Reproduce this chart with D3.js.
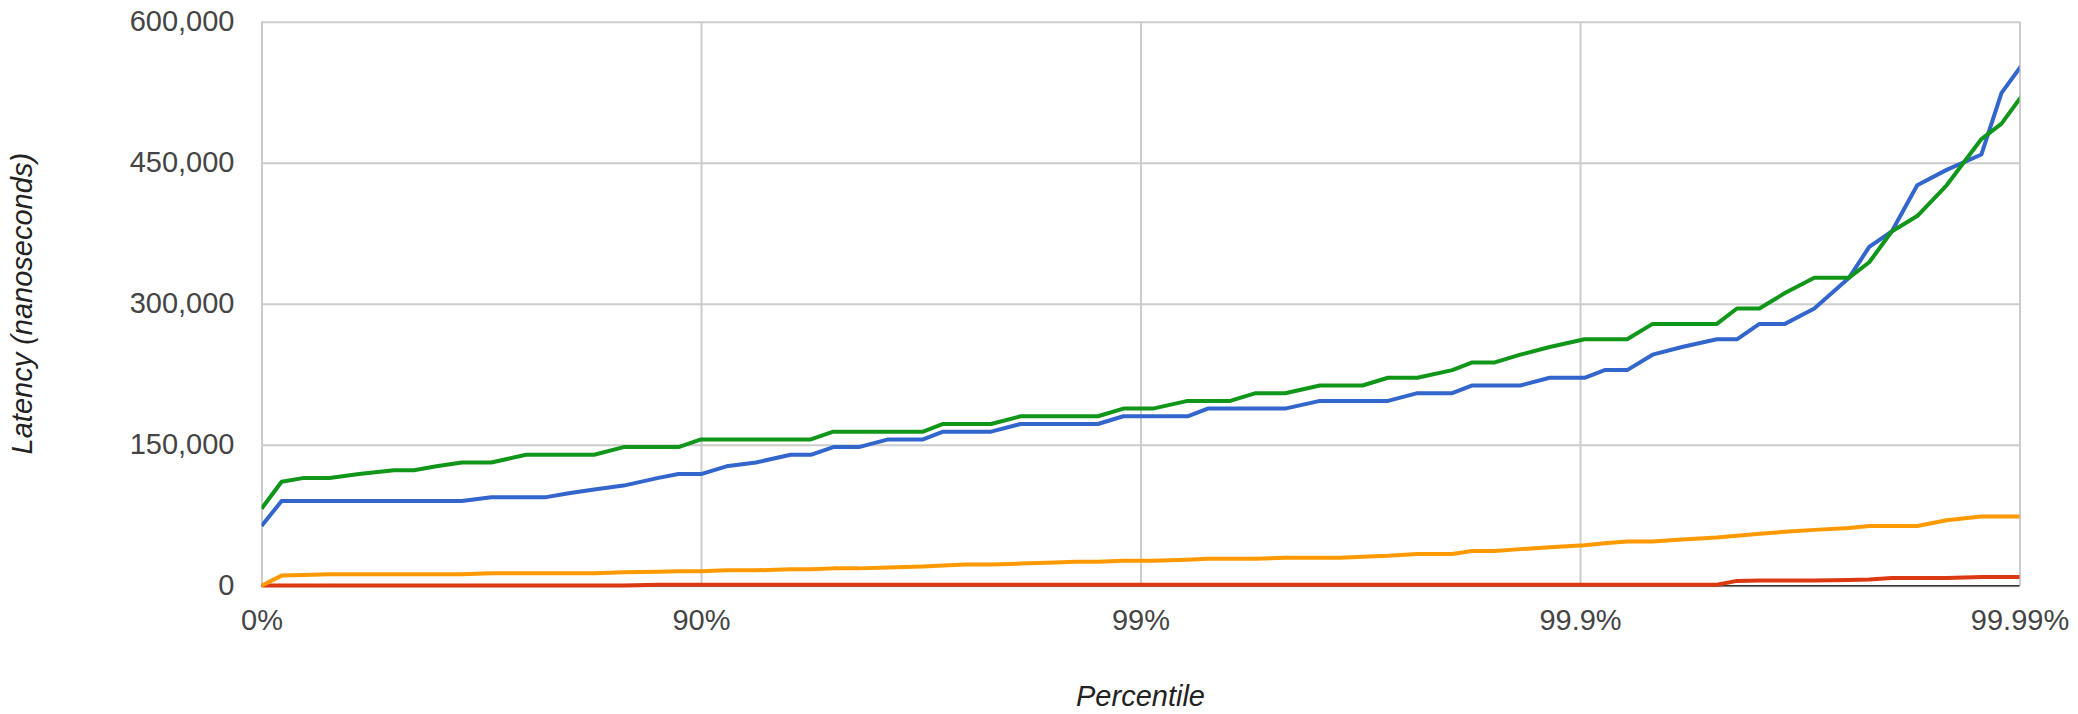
<!DOCTYPE html>
<html>
<head>
<meta charset="utf-8">
<script src="https://cdn.jsdelivr.net/npm/d3@7"></script>
<style>
  body { margin: 0; background: #fff; }
  svg { display: block; }
</style>
</head>
<body>
<div class="main"></div>
<script>
// Percentile levels (HdrHistogram style, 5 ticks per half distance)
const percentiles = [
  0, 10, 20, 30, 40,
  50, 55, 60, 65, 70,
  75, 77.5, 80, 82.5, 85,
  87.5, 88.75, 90, 91.25, 92.5,
  93.75, 94.375, 95, 95.625, 96.25,
  96.875, 97.1875, 97.5, 97.8125, 98.125,
  98.4375, 98.59375, 98.75, 98.90625, 99.0625,
  99.21875, 99.296875, 99.375, 99.453125, 99.53125,
  99.609375, 99.6484375, 99.6875, 99.7265625, 99.765625,
  99.8046875, 99.82421875, 99.84375, 99.86328125, 99.8828125,
  99.90234375, 99.912109375, 99.921875, 99.931640625, 99.94140625,
  99.951171875, 99.9560546875, 99.9609375, 99.9658203125, 99.970703125,
  99.9755859375, 99.97802734375, 99.98046875, 99.98291015625, 99.9853515625,
  99.98779296875, 99.989013671875, 99.990234375
]

// latency in nanoseconds at each percentile
const blueSeries = [
  63488, 90112, 90112, 90112, 90112,
  90112, 90112, 90112, 90112, 94208,
  94208, 94208, 98304, 102400, 106496,
  114688, 118784, 118784, 126976, 131072,
  139264, 139264, 147456, 147456, 155648,
  155648, 163840, 163840, 163840, 172032,
  172032, 172032, 172032, 180224, 180224,
  180224, 188416, 188416, 188416, 188416,
  196608, 196608, 196608, 196608, 204800,
  204800, 212992, 212992, 212992, 221184,
  221184, 229376, 229376, 245760, 253952,
  262144, 262144, 278528, 278528, 294912,
  327680, 360448, 376832, 425984, 442368,
  458752, 524288, 557056
]

const redSeries = [
  256, 256, 256, 256, 256,
  256, 256, 256, 256, 256,
  256, 256, 256, 256, 256,
  1024, 1024, 1024, 1024, 1024,
  1024, 1024, 1024, 1024, 1024,
  1024, 1024, 1024, 1024, 1024,
  1024, 1024, 1024, 1024, 1024,
  1024, 1024, 1024, 1024, 1024,
  1024, 1024, 1024, 1024, 1024,
  1024, 1024, 1024, 1024, 1024,
  1024, 1024, 1024, 1024, 1024,
  1024, 5120, 5632, 5632, 5632,
  6144, 6656, 8192, 8192, 8192,
  9216, 9216, 9216
]

const orangeSeries = [
  0, 10752, 11264, 12288, 12288,
  12288, 12288, 12288, 12288, 13312,
  13312, 13312, 13312, 13312, 14336,
  14848, 15360, 15360, 16384, 16384,
  17408, 17408, 18432, 18432, 19456,
  20480, 21504, 22528, 22528, 23552,
  24576, 25600, 25600, 26624, 26624,
  27648, 28672, 28672, 28672, 29696,
  29696, 29696, 30720, 31744, 33792,
  33792, 36864, 36864, 38912, 40960,
  43008, 45056, 47104, 47104, 49152,
  51200, 53248, 55296, 57344, 59392,
  61440, 63488, 63488, 63488, 69632,
  73728, 73728, 73728
]

const greenSeries = [
  81920, 110592, 114688, 114688, 118784,
  122880, 122880, 126976, 131072, 131072,
  139264, 139264, 139264, 139264, 147456,
  147456, 147456, 155648, 155648, 155648,
  155648, 155648, 163840, 163840, 163840,
  163840, 172032, 172032, 172032, 180224,
  180224, 180224, 180224, 188416, 188416,
  196608, 196608, 196608, 204800, 204800,
  212992, 212992, 212992, 221184, 221184,
  229376, 237568, 237568, 245760, 253952,
  262144, 262144, 262144, 278528, 278528,
  278528, 294912, 294912, 311296, 327680,
  327680, 344064, 376832, 393216, 425984,
  475136, 491520, 524288
]

const seriesColors = ["#3366cc", "#dc3912", "#ff9900", "#109618"]

// x ticks sit at 1/(1-p)
const xTickValues = [1, 10, 100, 1000, 10000]
const xTickLabels = ["0%", "90%", "99%", "99.9%", "99.99%"]
const yTickValues = [0, 150000, 300000, 450000, 600000]

const width = 2078
const height = 714
const margin = ({top: 21.7, right: 58.5, bottom: 128.3, left: 261.5})
const fontFamily = "'Liberation Sans', Arial, Helvetica, sans-serif"

const allSeries = [blueSeries, redSeries, orangeSeries, greenSeries]

const xScale = d3.scaleLog()
  .domain([1, 10000])
  .range([margin.left, width - margin.right])

const yScale = d3.scaleLinear()
  .domain([0, 600000])
  .range([height - margin.bottom, margin.top])

const svg = d3.select(".main")
  .append("svg")
  .attr("width", width)
  .attr("height", height)

svg.append("defs")
  .append("clipPath")
    .attr("id", "plotClip")
  .append("rect")
    .attr("x", margin.left)
    .attr("y", 0)
    .attr("width", width - margin.left - margin.right)
    .attr("height", height)

// Gridlines
svg.append("g")
  .attr("class", "y-grid")
  .attr("transform", `translate(${margin.left}, 0)`)
  .call(d3.axisLeft(yScale)
    .tickValues(yTickValues)
    .tickSize(-(width - margin.left - margin.right))
    .tickFormat(""))
  .call(g => g.select(".domain").remove())
  .selectAll("line")
    .attr("stroke", "#cccccc")
    .attr("stroke-width", 2)

svg.append("g")
  .attr("class", "x-grid")
  .attr("transform", `translate(0, ${height - margin.bottom})`)
  .call(d3.axisBottom(xScale)
    .tickValues(xTickValues)
    .tickSize(-(height - margin.top - margin.bottom))
    .tickFormat(""))
  .call(g => g.select(".domain").remove())
  .selectAll("line")
    .attr("stroke", "#cccccc")
    .attr("stroke-width", 2)

// baseline at zero
svg.append("line")
  .attr("x1", margin.left)
  .attr("x2", width - margin.right)
  .attr("y1", yScale(0))
  .attr("y2", yScale(0))
  .attr("stroke", "#333333")
  .attr("stroke-width", 1.5)

// Tick labels
const yAxis = svg.append("g")
  .attr("transform", `translate(${margin.left - 27}, 0)`)
  .call(d3.axisLeft(yScale)
    .tickValues(yTickValues)
    .tickSize(0)
    .tickPadding(0)
    .tickFormat(d3.format(",")))
yAxis.select(".domain").remove()
yAxis.selectAll("text")
  .attr("fill", "#444444")
  .attr("font-size", 29)
  .attr("font-family", fontFamily)

const xAxis = svg.append("g")
  .attr("transform", `translate(0, ${height - margin.bottom})`)
  .call(d3.axisBottom(xScale)
    .tickValues(xTickValues)
    .tickSize(0)
    .tickPadding(0)
    .tickFormat((d, i) => xTickLabels[i]))
xAxis.select(".domain").remove()
xAxis.selectAll("text")
  .attr("fill", "#444444")
  .attr("font-size", 29)
  .attr("font-family", fontFamily)
  .attr("dy", null)
  .attr("y", 44)

// Lines
const line = d3.line()
  .x((d, i) => xScale(1 / (1 - percentiles[i] / 100)))
  .y(d => yScale(d))

svg.append("g")
  .attr("id", "lines")
  .attr("clip-path", "url(#plotClip)")
  .selectAll("path")
  .data(allSeries)
  .join("path")
    .attr("d", d => line(d))
    .attr("fill", "none")
    .attr("stroke", (d, i) => seriesColors[i])
    .attr("stroke-width", 4)
    .attr("stroke-linejoin", "round")

// Axis titles
svg.append("text")
  .text("Percentile")
  .attr("x", (margin.left + width - margin.right) / 2)
  .attr("y", 706)
  .attr("text-anchor", "middle")
  .attr("font-size", 29)
  .attr("font-style", "italic")
  .attr("fill", "#222222")
  .attr("font-family", fontFamily)

svg.append("text")
  .text("Latency (nanoseconds)")
  .attr("transform", `translate(32, ${(margin.top + height - margin.bottom) / 2}) rotate(-90)`)
  .attr("text-anchor", "middle")
  .attr("font-size", 29)
  .attr("font-style", "italic")
  .attr("fill", "#222222")
  .attr("font-family", fontFamily)
</script>
</body>
</html>
